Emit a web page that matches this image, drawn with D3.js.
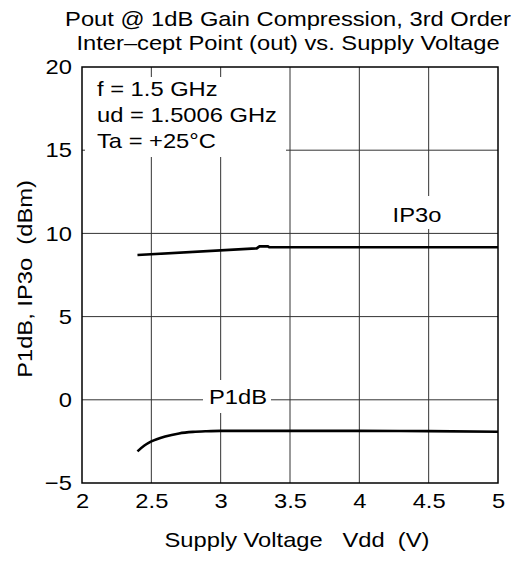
<!DOCTYPE html>
<html><head><meta charset="utf-8">
<script src="https://cdn.jsdelivr.net/npm/d3@7"></script>
<style>
body{margin:0;background:#fff;}
text{font-family:"Liberation Sans",Arial,Helvetica,sans-serif;fill:#000;white-space:pre;}
</style></head>
<body><svg id="c" width="528" height="561"></svg>
<script>
const titleLines = ["Pout @ 1dB Gain Compression, 3rd Order", "Inter\u2013cept Point (out) vs. Supply Voltage"];
const xTicks = [2, 2.5, 3, 3.5, 4, 4.5, 5];
const yTicks = [-5, 0, 5, 10, 15, 20];
const yTickLabels = ["\u22125", "0", "5", "10", "15", "20"];
const xLabel = "Supply Voltage   Vdd  (V)";
const yLabel = "P1dB, IP3o  (dBm)";
const notes = ["f = 1.5 GHz", "ud = 1.5006 GHz", "Ta = +25\u00B0C"];

const ip3oX = [2.4, 3.26, 3.28, 3.34, 3.35, 5.0];
const ip3oY = [8.7, 9.1, 9.22, 9.22, 9.17, 9.17];
const p1dbX = [2.4, 2.45, 2.5, 2.6, 2.7, 2.8, 2.9, 3.0, 3.5, 4.0, 4.5, 5.0];
const p1dbY = [-3.1, -2.75, -2.5, -2.2, -2.02, -1.93, -1.89, -1.87, -1.87, -1.87, -1.88, -1.92];

const svg = d3.select("#c");
const L = 82, T = 67, W = 416, H = 416;
const x = d3.scaleLinear().domain([2, 5]).range([L, L + W]);
const y = d3.scaleLinear().domain([-5, 20]).range([T + H, T]);
const FS = 21, SX = 1.13;

function txt(g, s, px, py, anchor, size) {
  return g.append("text").attr("font-size", size || FS).attr("text-anchor", anchor || "start")
    .attr("transform", `translate(${px},${py}) scale(${SX},1)`).text(s);
}

// grid
const grid = svg.append("g");
grid.selectAll("line.v").data(xTicks.slice(1, -1)).join("line")
  .attr("x1", d => x(d)).attr("x2", d => x(d)).attr("y1", T).attr("y2", T + H)
  .attr("stroke", "#333").attr("stroke-width", 1);
grid.selectAll("line.h").data(yTicks.slice(1, -1)).join("line")
  .attr("x1", L).attr("x2", L + W).attr("y1", d => y(d)).attr("y2", d => y(d))
  .attr("stroke", "#333").attr("stroke-width", 1);

// white label backgrounds
svg.append("rect").attr("x", 85).attr("y", 77).attr("width", 201).attr("height", 80).attr("fill", "#fff");
svg.append("rect").attr("x", 203).attr("y", 380).attr("width", 68).attr("height", 33).attr("fill", "#fff");
svg.append("rect").attr("x", 389).attr("y", 196).attr("width", 57).attr("height", 33).attr("fill", "#fff");

// frame
svg.append("rect").attr("x", L).attr("y", T).attr("width", W).attr("height", H)
  .attr("fill", "none").attr("stroke", "#000").attr("stroke-width", 1.5);

// axes tick labels via d3 axes
const xAxis = svg.append("g").attr("transform", `translate(0,${T + H})`)
  .call(d3.axisBottom(x).tickValues(xTicks).tickSize(0).tickPadding(10).tickFormat(d3.format("")));
xAxis.select(".domain").remove();
xAxis.selectAll("text").attr("font-size", FS).attr("font-family", null).attr("dy", "0.71em")
  .attr("transform", `scale(${SX},1)`);
const yAxis = svg.append("g").attr("transform", `translate(${L},0)`)
  .call(d3.axisLeft(y).tickValues(yTicks).tickSize(0).tickPadding(9).tickFormat((d, i) => yTickLabels[i]));
yAxis.select(".domain").remove();
yAxis.selectAll("text").attr("font-size", FS).attr("font-family", null)
  .attr("transform", `scale(${SX},1)`);

// lines
svg.append("path").datum(ip3oX.map((v, i) => [v, ip3oY[i]]))
  .attr("d", d3.line().x(d => x(d[0])).y(d => y(d[1])).curve(d3.curveLinear))
  .attr("fill", "none").attr("stroke", "#000").attr("stroke-width", 2.6);
svg.append("path").datum(p1dbX.map((v, i) => [v, p1dbY[i]]))
  .attr("d", d3.line().x(d => x(d[0])).y(d => y(d[1])).curve(d3.curveMonotoneX))
  .attr("fill", "none").attr("stroke", "#000").attr("stroke-width", 2.6);

// labels
txt(svg, "IP3o", 417, 222, "middle");
txt(svg, "P1dB", 238, 404, "middle");
notes.forEach((s, i) => txt(svg, s, 97, 96 + i * 26, "start"));

// titles
txt(svg, titleLines[0], 288, 26, "middle");
txt(svg, titleLines[1], 288, 50, "middle");
txt(svg, xLabel, 297, 547, "middle");
svg.append("text").attr("font-size", FS).attr("text-anchor", "middle")
  .attr("transform", `translate(32,279) rotate(-90) scale(${SX},1)`).text(yLabel);
</script></body></html>
